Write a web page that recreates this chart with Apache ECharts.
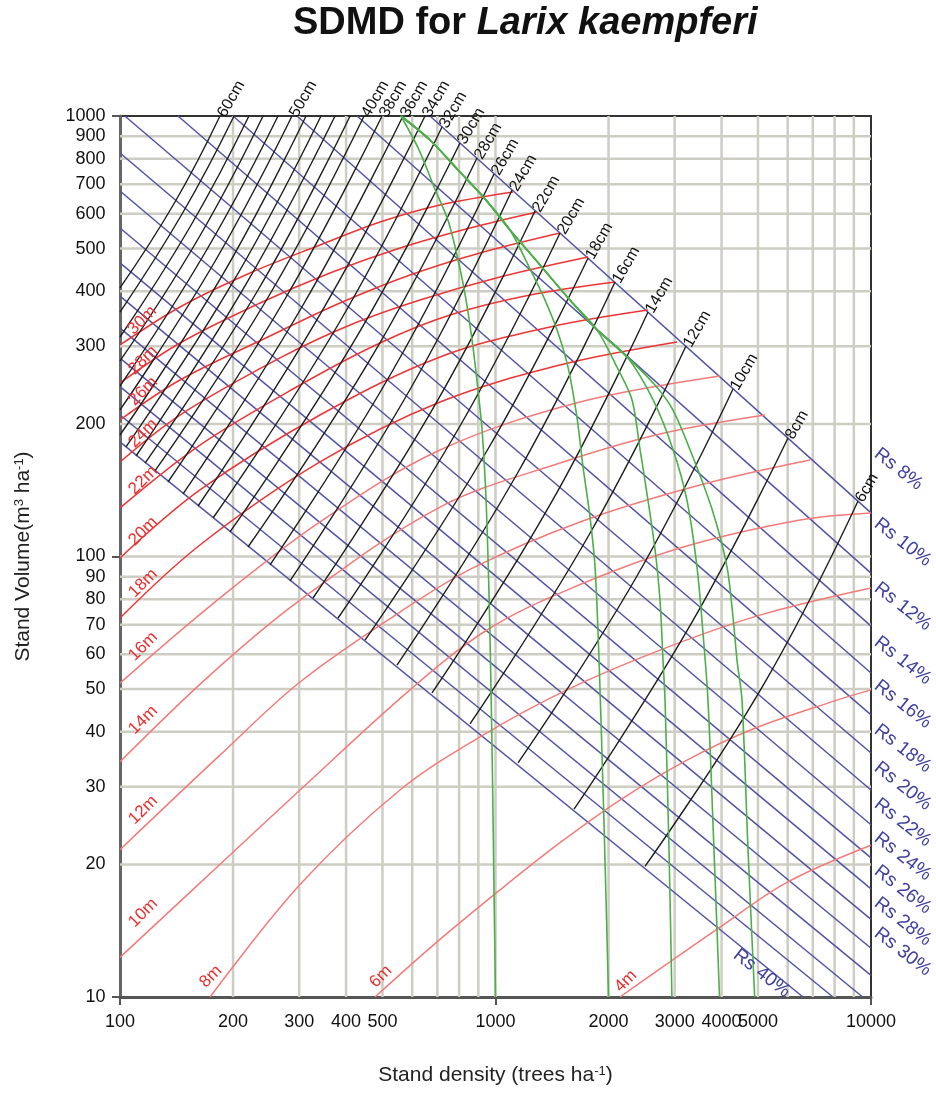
<!DOCTYPE html>
<html>
<head>
<meta charset="utf-8">
<title>SDMD for Larix kaempferi</title>
<script src="https://cdn.jsdelivr.net/npm/echarts@6/dist/echarts.min.js"></script>
<style>
  html, body { margin: 0; padding: 0; background: #fff; }
  #chart { width: 936px; height: 1094px; }
</style>
</head>
<body>
<div id="chart"></div>
<script>
// axis ticks and grid
const densityTicks = [100, 200, 300, 400, 500, 1000, 2000, 3000, 4000, 5000, 10000];
const volumeTicks = [10, 20, 30, 40, 50, 60, 70, 80, 90, 100, 200, 300, 400, 500, 600, 700, 800, 900, 1000];
const densityGrid = [200, 300, 400, 500, 600, 700, 800, 900, 1000, 2000, 3000, 4000, 5000, 6000, 7000, 8000, 9000];
const volumeGrid = [20, 30, 40, 50, 60, 70, 80, 90, 100, 200, 300, 400, 500, 600, 700, 800, 900];

// relative spacing lines (straight in log-log), first one is Rs 8 %
const spacingLines = [
  [[669, 1000], [10000, 125.6]],
  [[428, 1000], [10000, 91.7]],
  [[296, 1000], [10000, 69.5]],
  [[200, 1000], [10000, 54.4]],
  [[142.7, 1000], [10000, 43.7]],
  [[103, 1000], [10000, 35.8]],
  [[100, 824], [10000, 29.5]],
  [[100, 675.5], [10000, 24.6]],
  [[100, 557], [10000, 20.7]],
  [[100, 464], [10000, 17.6]],
  [[100, 390], [10000, 15.0]],
  [[100, 330], [10000, 12.9]],
  [[100, 282], [10000, 11.2]],
  [[100, 243], [9500, 10]],
  [[100, 209.5], [7920, 10]],
  [[100, 182], [6590, 10]]
];
const spacingLabels = ['Rs 8%', 'Rs 10%', 'Rs 12%', 'Rs 14%', 'Rs 16%', 'Rs 18%',
  'Rs 20%', 'Rs 22%', 'Rs 24%', 'Rs 26%', 'Rs 28%', 'Rs 30%'];
const spacingLabelVolume = [172.7, 119.8, 85.7, 64.6, 51.4, 40.8, 33.5, 27.7, 23.2, 19.5, 16.5, 14.1];
const lastSpacingLabel = { name: 'Rs 40%', value: [4212, 12.6] };

// mean diameter lines, top point first
const diameterCm = [60, 58, 56, 54, 52, 50, 48, 46, 44, 42, 40, 38, 36, 34,
  32, 30, 28, 26, 24, 22, 20, 18, 16, 14, 12, 10, 8, 6];
const diameterTagged = [60, 50, 40, 38, 36, 34, 32, 30, 28, 26, 24, 22, 20, 18, 16, 14, 12, 10, 8, 6];
const diameterLines = [
  [[184.6, 1000], [140.1, 637.9], [100, 407.0]],
  [[201.2, 1000], [146.3, 599.1], [100, 358.9]],
  [[220.5, 1000], [153.6, 559.8], [100, 315.0]],
  [[240.4, 1000], [161.4, 525.8], [100, 277.9]],
  [[263.5, 1000], [169.5, 493.8], [100, 243.8]],
  [[287.1, 1000], [178.0, 463.8], [100, 215.1]],
  [[312.9, 1000], [186.9, 433.4], [100, 188.7]],
  [[343.0, 1000], [200.0, 420.0], [103.7, 177.3]],
  [[373.8, 1000], [215.2, 411.3], [110.3, 169.1]],
  [[409.9, 1000], [233.1, 402.7], [116.6, 163.0]],
  [[446.6, 1000], [250.9, 394.4], [123.9, 156.4]],
  [[498.6, 1000], [275.1, 384.2], [134.2, 147.6]],
  [[567.1, 1000], [307.2, 372.3], [147.2, 138.7]],
  [[649.0, 1000], [345.1, 360.8], [161.4, 130.2]],
  [[720.4, 944.1], [383.1, 338.9], [176.9, 122.3]],
  [[804.4, 868.3], [425.2, 313.4], [196.3, 113.7]],
  [[892.7, 802.8], [474.8, 289.8], [219.2, 105.1]],
  [[990.8, 738.5], [533.4, 265.1], [250.9, 95.7]],
  [[1107, 679.2], [599.3, 243.8], [283.6, 88.0]],
  [[1274, 608.6], [690.1, 220.8], [326.6, 80.5]],
  [[1485, 542.5], [804.4, 197.8], [380.8, 72.5]],
  [[1764, 476.1], [955.0, 175.4], [449.3, 64.6]],
  [[2081, 420.0], [1141, 153.9], [546.6, 56.7]],
  [[2548, 358.9], [1406, 132.3], [677.5, 49.0]],
  [[3216, 300.6], [1774, 111.9], [855.2, 41.7]],
  [[4290, 240.1], [2381, 90.3], [1148, 34.0]],
  [[6011, 185.8], [3316, 70.3], [1619, 26.7]],
  [[9234, 133.7], [5189, 51.4], [2501, 19.8]]
];

// dominant height lines
const heightM = [30, 28, 26, 24, 22, 20, 18, 16, 14, 12, 10, 8, 6, 4];
const heightLines = [
  [[100, 302.1], [144.5, 368.5], [222, 440.2], [340.9, 509.5], [492.5, 574.5], [711.6, 628.1], [1114, 672.2]],
  [[100, 247.7], [144.5, 305.3], [236, 376.2], [362.4, 440.2], [556.9, 501.6], [855.2, 556.9], [1290, 605.5]],
  [[100, 204.1], [144.5, 251.6], [250.9, 316.6], [385.4, 376.2], [592, 435.6], [909.3, 488.7], [1485, 542.5]],
  [[100, 163.9], [144.5, 209.5], [266.8, 282.3], [409.9, 335.4], [629.5, 382.2], [1028, 431.1], [1764, 478.6]],
  [[100, 128.9], [163.3, 179.1], [301.6, 245.1], [492.5, 305.3], [756.4, 353.4], [1236, 392.4], [2081, 420.0]],
  [[100, 99.2], [163.3, 141.6], [340.9, 209.5], [711.6, 283.8], [1397, 331.9], [2548, 362.7]],
  [[100, 72.5], [163.3, 106.2], [340.9, 163.9], [711.6, 224.2], [1485, 272.1], [3044, 306.9]],
  [[100, 51.6], [179, 78.8], [340.9, 119.8], [711.6, 174.5], [1679, 224.2], [3962, 256.9]],
  [[100, 34.2], [173.7, 53.8], [301.6, 79.6], [711.6, 129.5], [1485, 163.0], [2742, 189.7], [5221, 209.5]],
  [[100, 21.6], [184.6, 35.4], [301.6, 51.9], [556.9, 74.8], [871, 94.2], [1679, 119.8], [3504, 145.3], [6880, 165.6]],
  [[100, 12.3], [196.3, 21.0], [301.6, 29.5], [592, 49.8], [949.1, 68.1], [1550, 83.9], [3100, 104.5], [6471, 121.0], [10000, 125.6]],
  [[173.7, 10], [301.6, 18.0], [556.9, 29.5], [926.1, 39.3], [1550, 49.8], [2742, 61.3], [5063, 73.6], [10000, 84.8]],
  [[477.7, 10], [681.7, 13.1], [1028, 17.5], [1485, 22.4], [2146, 28.0], [3236, 34.5], [4851, 40.6], [8119, 47.2], [10000, 49.8]],
  [[2146, 10], [3962, 14.4], [5974, 18.2], [10000, 22.1]]
];
const heightLabelAt = [
  [106.3, 323.3], [107, 262.4], [107, 223.1], [107, 179.1], [107, 140.1], [107, 107.3],
  [107, 81.8], [107, 58.8], [107, 40.0], [107, 25.0], [107, 14.6],
  [165.4, 10.65], [469, 10.65], [2106, 10.4]
];

// density trajectories (initial 1000 .. 5000 trees/ha)
const densityCurves = [
  [[560, 1000], [626, 837], [686, 690], [748, 578], [795, 471], [835, 382], [871, 299], [898, 239],
   [921, 194], [944, 134], [962, 79.6], [972, 52.4], [982, 31.1], [990, 18.4], [1000, 10]],
  [[560, 1000], [669, 882], [795, 754], [938, 648], [1093, 551], [1221, 459], [1355, 382], [1467, 322],
   [1560, 269], [1648, 207], [1710, 160], [1785, 123], [1841, 94.7], [1887, 58.2], [1934, 29.5], [1957, 20.5], [2000, 10]],
  [[560, 1000], [669, 882], [795, 754], [938, 648], [1093, 551], [1314, 459], [1579, 382], [1864, 327],
   [2106, 269], [2309, 227], [2426, 175], [2548, 134], [2659, 104], [2742, 79.6], [2793, 58.2], [2828, 47.2], [2898, 21.6], [2950, 10]],
  [[560, 1000], [669, 882], [795, 754], [938, 648], [1093, 551], [1314, 459], [1579, 382], [1864, 327],
   [2239, 284], [2627, 227], [2969, 175], [3236, 134], [3440, 94.7], [3569, 67.1], [3680, 47.2], [3818, 21.6], [3950, 10]],
  [[560, 1000], [669, 882], [795, 754], [938, 648], [1093, 551], [1314, 459], [1579, 382], [1864, 327],
   [2239, 284], [2659, 245], [2969, 215], [3357, 168], [3795, 126], [4135, 94.7], [4290, 72.9], [4397, 58.2], [4534, 47.2], [4704, 21.6], [4900, 10]]
];

const FONT = 'Liberation Sans';

function path(data, color, width, z, smooth) {
  return {
    type: 'line', data: data, symbol: 'none', smooth: smooth || false,
    silent: true, z: z, lineStyle: { color: color, width: width }
  };
}

function tags(items, label) {
  return {
    type: 'scatter', symbolSize: 1, silent: true, z: 8, clip: false,
    itemStyle: { color: 'rgba(0,0,0,0)', opacity: 1 },
    data: items,
    label: Object.assign({ show: true, formatter: '{b}', fontFamily: FONT, opacity: 1 }, label)
  };
}

const series = [];
densityGrid.forEach(n => series.push(path([[n, 10], [n, 1000]], '#cdcdc3', 2.5, 1)));
volumeGrid.forEach(v => series.push(path([[100, v], [10000, v]], '#cdcdc3', 2.5, 1)));
spacingLines.forEach(d => series.push(path(d, '#5353a5', 1.5, 2)));
heightLines.forEach((d, i) => series.push(path(d, heightM[i] >= 18 ? '#ee3434' : '#f47a7a', 1.5, 3, 0.35)));
diameterLines.forEach(d => series.push(path(d, '#1e1e1e', 1.4, 4, 0.45)));
densityCurves.forEach(d => series.push(path(d, '#4caf4a', 1.6, 5, 0.3)));

series.push(tags(
  diameterLines
    .map((d, i) => ({ name: diameterCm[i] + 'cm', value: d[0], cm: diameterCm[i] }))
    .filter(p => diameterTagged.indexOf(p.cm) >= 0)
    .map(p => ({ name: p.name, value: p.value })),
  { position: 'right', distance: 1, rotate: 60, fontSize: 16, color: '#111' }
));
series.push(tags(
  heightLabelAt.map((p, i) => ({ name: heightM[i] + 'm', value: p })),
  { position: 'right', distance: 0, rotate: 45, fontSize: 17, color: '#ec2c2c' }
));
series.push(tags(
  spacingLabelVolume.map((v, i) => ({ name: spacingLabels[i], value: [10000, v] })).concat([lastSpacingLabel]),
  { position: 'right', distance: 5, rotate: -38, fontSize: 19, color: '#4040a0' }
));
series.push(tags(
  densityTicks.map(n => ({ name: String(n), value: [n, 10] })),
  { position: 'bottom', distance: 16, fontSize: 18, color: '#111' }
));
series.push(tags(
  volumeTicks.map(v => ({ name: String(v), value: [100, v] })),
  { position: 'left', distance: 14, fontSize: 18, color: '#111' }
));

const chart = echarts.init(document.getElementById('chart'));
chart.setOption({
  animation: false,
  backgroundColor: '#fff',
  title: {
    text: '{a|SDMD for }{b|Larix kaempferi}',
    left: 288, top: 0,
    textStyle: {
      rich: {
        a: { fontSize: 38, fontWeight: 'bold', fontFamily: FONT, color: '#111' },
        b: { fontSize: 38, fontWeight: 'bold', fontStyle: 'italic', fontFamily: FONT, color: '#111' }
      }
    }
  },
  grid: {
    left: 120, right: 65, top: 116, bottom: 97,
    show: true, borderColor: '#333', borderWidth: 2,
    outerBoundsMode: 'none'
  },
  xAxis: {
    type: 'log', logBase: 10, min: 100, max: 10000,
    name: '{t|Stand density (trees ha}{s|-1}{t|)}',
    nameLocation: 'middle', nameGap: 68,
    nameTextStyle: {
      rich: {
        t: { fontSize: 21, fontFamily: FONT, color: '#222' },
        s: { fontSize: 13, fontFamily: FONT, color: '#222', verticalAlign: 'top' }
      }
    },
    axisLine: { lineStyle: { color: '#555', width: 3 } },
    axisTick: { show: true, length: 8, lineStyle: { color: '#555', width: 2 } },
    axisLabel: { show: false },
    splitLine: { show: false }
  },
  yAxis: {
    type: 'log', logBase: 10, min: 10, max: 1000,
    name: '{t|Stand Volume(m}{s|3}{t| ha}{s|-1}{t|)}',
    nameLocation: 'middle', nameGap: 86, nameRotate: 90,
    nameTextStyle: {
      rich: {
        t: { fontSize: 21, fontFamily: FONT, color: '#222' },
        s: { fontSize: 13, fontFamily: FONT, color: '#222', verticalAlign: 'top' }
      }
    },
    axisLine: { lineStyle: { color: '#666', width: 3 } },
    axisTick: { show: true, length: 8, lineStyle: { color: '#555', width: 2 } },
    axisLabel: { show: false },
    splitLine: { show: false }
  },
  series: series
});
</script>
</body>
</html>
